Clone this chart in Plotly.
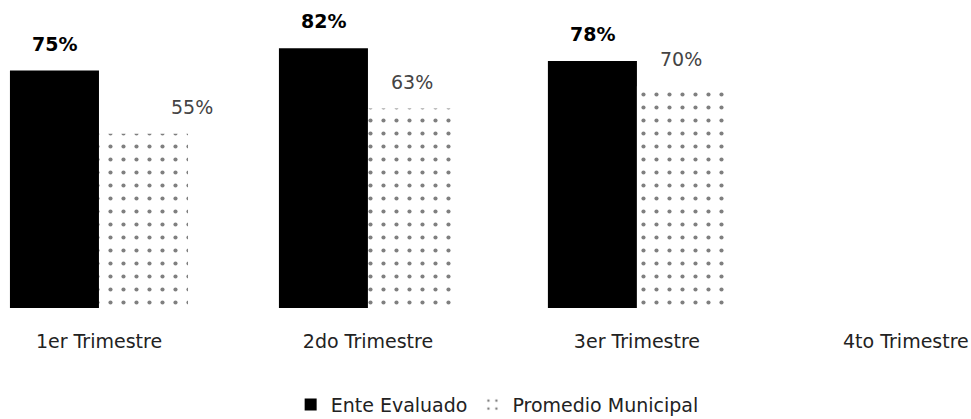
import plotly.graph_objects as go

categories = ["1er Trimestre", "2do Trimestre", "3er Trimestre", "4to Trimestre"]
ente_evaluado = [75, 82, 78, None]
promedio_municipal = [55, 63, 70, None]
series_names = ["Ente Evaluado", "Promedio Municipal"]

FONT = "DejaVu Sans"

fig = go.Figure()
fig.add_trace(go.Bar(
    x=categories, y=ente_evaluado, name=series_names[0],
    marker=dict(color="#000000", line=dict(width=0)),
))
fig.add_trace(go.Bar(
    x=categories, y=promedio_municipal, name=series_names[1],
    marker=dict(color="#ffffff", line=dict(width=0),
                pattern=dict(shape=".", fgcolor="#000000", bgcolor="#ffffff",
                             size=13, solidity=0.08)),
))

annotations = []
half = 44.5
extra_dx = [49, 0, 0, 0]
for i, c in enumerate(categories):
    v = ente_evaluado[i]
    if v is not None:
        annotations.append(dict(x=c, y=v, xref="x", yref="y", text=f"<b>{v}%</b>",
                                showarrow=False, xshift=-half, yshift=27,
                                font=dict(family=FONT, size=19, color="#000000")))
    v2 = promedio_municipal[i]
    if v2 is not None:
        annotations.append(dict(x=c, y=v2, xref="x", yref="y", text=f"{v2}%",
                                showarrow=False, xshift=half + extra_dx[i], yshift=27,
                                font=dict(family=FONT, size=19, color="#444444")))

fig.update_layout(
    width=971, height=419,
    margin=dict(l=0, r=0, t=23, b=111, autoexpand=False),
    paper_bgcolor="#ffffff", plot_bgcolor="#ffffff",
    barmode="group", bargap=0.338, bargroupgap=0,
    font=dict(family=FONT, size=19, color="#000000"),
    xaxis=dict(type="category", range=[-0.368, 3.242], showgrid=False,
               showline=False, zeroline=False, ticks="", automargin=False,
               ticklabelstandoff=20,
               tickfont=dict(family=FONT, size=19, color="#222222")),
    yaxis=dict(range=[0, 90], visible=False, showgrid=False, zeroline=False,
               automargin=False),
    legend=dict(orientation="h", xref="container", yref="container",
                x=0.512, xanchor="center", y=0.034, yanchor="middle",
                font=dict(family=FONT, size=19, color="#222222"),
                itemwidth=30),
    annotations=annotations,
    showlegend=True,
)

fig.write_html("out.html", config={"displayModeBar": False})

# remove the default page margin so the figure sits at the window origin
with open("out.html", "r", encoding="utf-8") as f:
    html = f.read()
html = html.replace("<head>", "<head><style>html,body{margin:0;padding:0;}</style>", 1)
with open("out.html", "w", encoding="utf-8") as f:
    f.write(html)
